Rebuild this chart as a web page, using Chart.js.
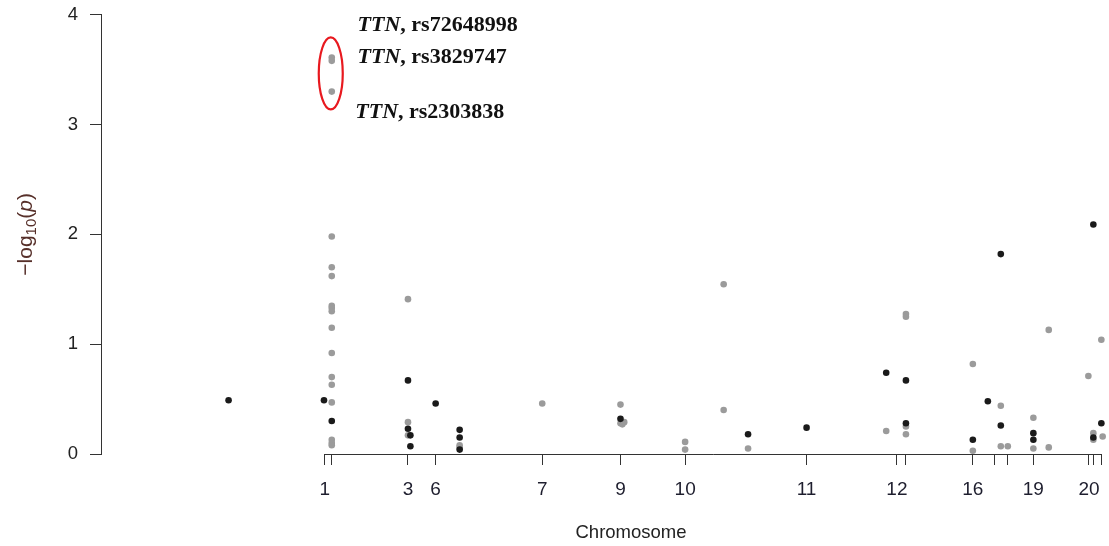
<!DOCTYPE html>
<html>
<head>
<meta charset="utf-8">
<script src="https://cdn.jsdelivr.net/npm/chart.js@4.4.1/dist/chart.umd.min.js"></script>
<style>
  html, body { margin: 0; padding: 0; background: #fff; }
  #wrap { width: 1109px; height: 546px; }
</style>
</head>
<body>
<div id="wrap"><canvas id="chart"></canvas></div>
<script>
// positions along the genome axis (0 = start of chr 1, 100 = end of axis)
const tickValues = [0, 0.9, 10.71, 14.27, 27.99, 38.06, 46.38, 62.01, 73.64, 74.8, 83.41, 86.15, 87.91, 91.2, 98.36, 98.88, 100];
const tickLabels = ["1", "", "3", "6", "7", "9", "10", "11", "12", "", "16", "", "", "19", "20", "", ""];

// black SNPs
const blackX = [-12.38, -0.1, 0.9, 10.71, 10.71, 11.02, 11.02, 14.27, 17.36, 17.36, 17.36, 38.06, 54.48, 62.01, 72.26, 74.8, 74.8, 83.41, 85.34, 87.01, 87.01, 91.2, 91.2, 98.92, 98.92, 99.95];
const blackY = [0.49, 0.49, 0.30, 0.67, 0.23, 0.17, 0.07, 0.46, 0.22, 0.15, 0.04, 0.32, 0.18, 0.24, 0.74, 0.67, 0.28, 0.13, 0.48, 1.82, 0.26, 0.19, 0.13, 2.09, 0.15, 0.28];

// gray SNPs
const grayX = [0.9, 0.9, 0.9, 0.9, 0.9, 0.9, 0.9, 0.9, 0.9, 0.9, 0.9, 0.9, 0.9, 0.9, 0.9, 0.9, 0.9,
  10.71, 10.71, 10.71, 17.36, 17.36, 27.99, 38.06, 38.06, 38.54, 38.3, 46.38, 46.38, 51.34, 51.34, 54.48,
  72.26, 74.8, 74.8, 74.8, 74.8, 83.41, 83.41, 87.01, 87.01, 87.91, 91.2, 91.2, 93.18, 93.18, 98.28,
  98.92, 98.92, 99.95, 100.12];
const grayY = [3.61, 3.58, 3.30, 1.98, 1.70, 1.62, 1.35, 1.33, 1.30, 1.15, 0.92, 0.70, 0.63, 0.47, 0.13, 0.10, 0.08,
  1.41, 0.29, 0.17, 0.08, 0.06, 0.46, 0.45, 0.28, 0.29, 0.27, 0.11, 0.04, 1.545, 0.40, 0.05,
  0.21, 1.275, 1.25, 0.25, 0.18, 0.82, 0.03, 0.44, 0.07, 0.07, 0.33, 0.05, 1.13, 0.06, 0.71,
  0.19, 0.13, 1.04, 0.16];

// highlighted SNPs (gene, rsID, label height on y axis)
const hitGenes = ["TTN", "TTN", "TTN"];
const hitIds = ["rs72648998", "rs3829747", "rs2303838"];
const hitLabelY = [3.85, 3.56, 3.06];

const toPoints = (xs, ys) => xs.map((x, i) => ({ x: x, y: ys[i] }));

const extras = {
  id: "extras",
  afterDraw(chart) {
    const ctx = chart.ctx;
    const xs = chart.scales.x;
    const ys = chart.scales.y;
    const area = chart.chartArea;
    ctx.save();

    // x axis line, only across the tick range
    ctx.strokeStyle = "#333";
    ctx.lineWidth = 1;
    ctx.beginPath();
    const yb = Math.round(area.bottom) + 0.5;
    ctx.moveTo(xs.getPixelForValue(tickValues[0]), yb);
    ctx.lineTo(xs.getPixelForValue(tickValues[tickValues.length - 1]), yb);
    ctx.stroke();

    // x title
    ctx.fillStyle = "#222";
    ctx.font = "18.5px 'Liberation Sans', Arial, sans-serif";
    ctx.textAlign = "center";
    ctx.textBaseline = "middle";
    ctx.fillText("Chromosome", 631, 533);

    // y title: -log10(p)
    ctx.save();
    ctx.translate(25, (area.top + area.bottom) / 2);
    ctx.rotate(-Math.PI / 2);
    ctx.fillStyle = "#57302a";
    ctx.textBaseline = "alphabetic";
    ctx.textAlign = "left";
    const big = "21px 'Liberation Sans', Arial, sans-serif";
    const small = "15px 'Liberation Sans', Arial, sans-serif";
    const ital = "italic 21px 'Liberation Sans', Arial, sans-serif";
    const parts = [["\u2212log", big, 0], ["10", small, 4], ["(", big, 0], ["p", ital, 0], [")", big, 0]];
    let total = 0;
    parts.forEach(p => { ctx.font = p[1]; total += ctx.measureText(p[0]).width; });
    let cx = -total / 2;
    parts.forEach(p => {
      ctx.font = p[1];
      ctx.fillText(p[0], cx, 7 + p[2]);
      cx += ctx.measureText(p[0]).width;
    });
    ctx.restore();

    // red ellipse round the top hits
    const ex = xs.getPixelForValue(0.9) - 1;
    const ey = ys.getPixelForValue(3.465);
    ctx.strokeStyle = "#e8191f";
    ctx.lineWidth = 2.2;
    ctx.beginPath();
    ctx.ellipse(ex, ey, 12, 36, 0, 0, Math.PI * 2);
    ctx.stroke();

    // hit labels
    ctx.fillStyle = "#111";
    ctx.textAlign = "left";
    ctx.textBaseline = "alphabetic";
    hitGenes.forEach((g, i) => {
      let lx = xs.getPixelForValue(0.9) + (i === 2 ? 23.5 : 25.8);
      const ly = ys.getPixelForValue(hitLabelY[i]);
      ctx.font = "italic bold 22px 'Liberation Serif', 'Times New Roman', serif";
      ctx.fillText(g, lx, ly);
      lx += ctx.measureText(g).width;
      ctx.font = "bold 22px 'Liberation Serif', 'Times New Roman', serif";
      ctx.fillText(", " + hitIds[i], lx, ly);
    });
    ctx.restore();
  }
};

new Chart(document.getElementById("chart").getContext("2d"), {
  type: "scatter",
  data: {
    datasets: [
      {
        label: "black",
        data: toPoints(blackX, blackY),
        backgroundColor: "#1a1a1a",
        borderWidth: 0,
        pointRadius: 3.3,
        clip: false,
        order: 0,
      },
      {
        label: "gray",
        data: toPoints(grayX, grayY),
        backgroundColor: "#9b9b9b",
        borderWidth: 0,
        pointRadius: 3.3,
        clip: false,
        order: 1,
      },
    ],
  },
  options: {
    responsive: true,
    maintainAspectRatio: false,
    devicePixelRatio: 1,
    animation: false,
    layout: {
      padding: { top: 14.7, right: 3, left: 0, bottom: 0 },
    },
    plugins: {
      legend: { display: false },
      tooltip: { enabled: false },
    },
    scales: {
      x: {
        type: "linear",
        min: -28.8,
        max: 100.42,
        afterFit: (scale) => {
          scale.height = 92;
          scale.paddingLeft = 0;
          scale.paddingRight = 0;
        },
        afterBuildTicks: (scale) => {
          scale.ticks = tickValues.map(v => ({ value: v }));
        },
        border: { display: false },
        grid: {
          drawOnChartArea: false,
          drawTicks: true,
          tickLength: 11,
          color: "#333",
        },
        ticks: {
          autoSkip: false,
          maxRotation: 0,
          padding: 13,
          color: "#1e1e2e",
          font: { family: "'Liberation Sans', Arial, sans-serif", size: 19 },
          callback: (value, index) => tickLabels[index],
        },
      },
      y: {
        min: 0,
        max: 4,
        afterFit: (scale) => {
          scale.width = 101;
          scale.paddingTop = 0;
          scale.paddingBottom = 0;
        },
        border: { display: true, color: "#333", width: 1 },
        grid: {
          drawOnChartArea: false,
          drawTicks: true,
          tickLength: 11,
          color: "#333",
        },
        ticks: {
          stepSize: 1,
          padding: 12,
          color: "#222",
          font: { family: "'Liberation Sans', Arial, sans-serif", size: 18.5 },
        },
      },
    },
  },
  plugins: [extras],
});
</script>
</body>
</html>
